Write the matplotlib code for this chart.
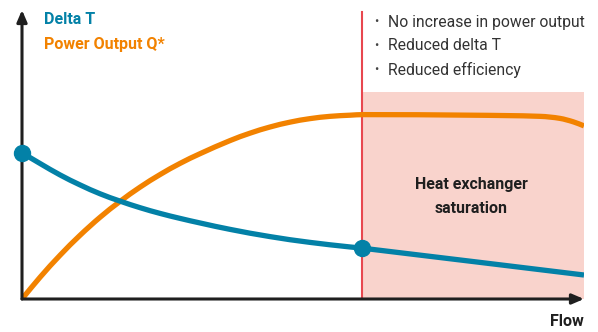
import matplotlib
matplotlib.use("Agg")
import matplotlib.pyplot as plt
from matplotlib.path import Path
from matplotlib.patches import PathPatch

# Curve samples (flow 0-100, value 0-100)
delta_t_flow = [0, 3.2, 6.8, 10.3, 13.9, 17.4, 21.0, 24.6, 28.1, 31.7, 37.0, 44.1, 51.2, 58.4, 60.5, 100]
delta_t_val = [50.6, 46.9, 42.9, 39.5, 36.4, 33.9, 31.6, 29.6, 27.9, 26.3, 24.1, 21.6, 19.6, 18.0, 17.6, 8.3]

power_flow = [0, 3.2, 6.8, 10.3, 13.9, 17.4, 21.0, 24.6, 28.1, 31.7, 37.0, 40.6, 44.1, 47.7,
              51.2, 54.8, 58.4, 60.7, 80.0, 92.2, 95.7, 98.1, 100]
power_val = [0, 7.5, 15.2, 22.0, 28.3, 33.7, 38.7, 43.1, 46.9, 50.3, 54.8, 57.4, 59.5, 61.2,
             62.4, 63.2, 63.6, 63.8, 63.6, 63.2, 62.5, 61.3, 59.9]

# Delta T markers: start and saturation onset
dot_flow = [0, 60.5]
dot_val = [50.6, 17.6]

saturation_flow = 60.5
saturation_top = 71.5

notes = ["No increase in power output", "Reduced delta T", "Reduced efficiency"]

BLUE = "#0381a7"
ORANGE = "#f28200"
RED = "#e8474f"
PINK = "#f9d3cc"
INK = "#1f1f1f"


def smooth_path(xs, ys):
    # cubic Bezier through the samples, tangents from neighbouring points
    n = len(xs)
    slopes = []
    for i in range(n):
        a, b = max(i - 1, 0), min(i + 1, n - 1)
        slopes.append((ys[b] - ys[a]) / (xs[b] - xs[a]))
    verts = [(xs[0], ys[0])]
    codes = [Path.MOVETO]
    for i in range(n - 1):
        h = (xs[i + 1] - xs[i]) / 3
        verts += [(xs[i] + h, ys[i] + slopes[i] * h),
                  (xs[i + 1] - h, ys[i + 1] - slopes[i + 1] * h),
                  (xs[i + 1], ys[i + 1])]
        codes += [Path.CURVE4] * 3
    return Path(verts, codes)


plt.rcParams["font.family"] = ["Roboto", "DejaVu Sans"]

fig = plt.figure(figsize=(5.98, 3.32), dpi=100)
ax = fig.add_axes([22 / 598, 33 / 332, 562 / 598, 289 / 332])
ax.set_xlim(0, 100)
ax.set_ylim(0, 100)
ax.axis("off")

# saturation zone
ax.fill_between([saturation_flow, 100], 0, saturation_top, color=PINK, lw=0, zorder=0)
ax.plot([saturation_flow, saturation_flow], [0, 99.3], color=RED, lw=1.5, zorder=1)

# axes with arrows
for tip in [(0, 100), (100, 0)]:
    ax.annotate("", xy=tip, xytext=(0, 0),
                arrowprops=dict(arrowstyle="-|>,head_length=0.7,head_width=0.3", color=INK, lw=2.2,
                                shrinkA=0, shrinkB=0),
                zorder=5)

ax.add_patch(PathPatch(smooth_path(power_flow, power_val), fill=False, edgecolor=ORANGE, lw=3.8,
                       capstyle="butt", zorder=3))
ax.add_patch(PathPatch(smooth_path(delta_t_flow, delta_t_val), fill=False, edgecolor=BLUE, lw=3.8,
                       capstyle="butt", zorder=4))
ax.plot(dot_flow, dot_val, "o", color=BLUE, ms=11.5, zorder=6, clip_on=False)

fig.text(44 / 598, 1 - 20 / 332, "Delta T", color=BLUE, fontsize=11.5, fontweight="bold", va="center")
fig.text(44 / 598, 1 - 44 / 332, "Power Output Q*", color=ORANGE, fontsize=11.5, fontweight="bold", va="center")

for i, note in enumerate(notes):
    y = 1 - (22 + i * 24) / 332
    fig.text(374 / 598, y, "•", color="#444444", fontsize=9, va="center")
    fig.text(388 / 598, y, note, color="#333333", fontsize=11.3, va="center")

ax.text(80, 35.5, "Heat exchanger\nsaturation", color=INK, fontsize=11.5, fontweight="bold",
        ha="center", va="center", linespacing=1.75)
fig.text(584 / 598, 1 - 321 / 332, "Flow", color=INK, fontsize=11.5, fontweight="bold", ha="right", va="center")

fig.savefig("out.png", dpi=100)
